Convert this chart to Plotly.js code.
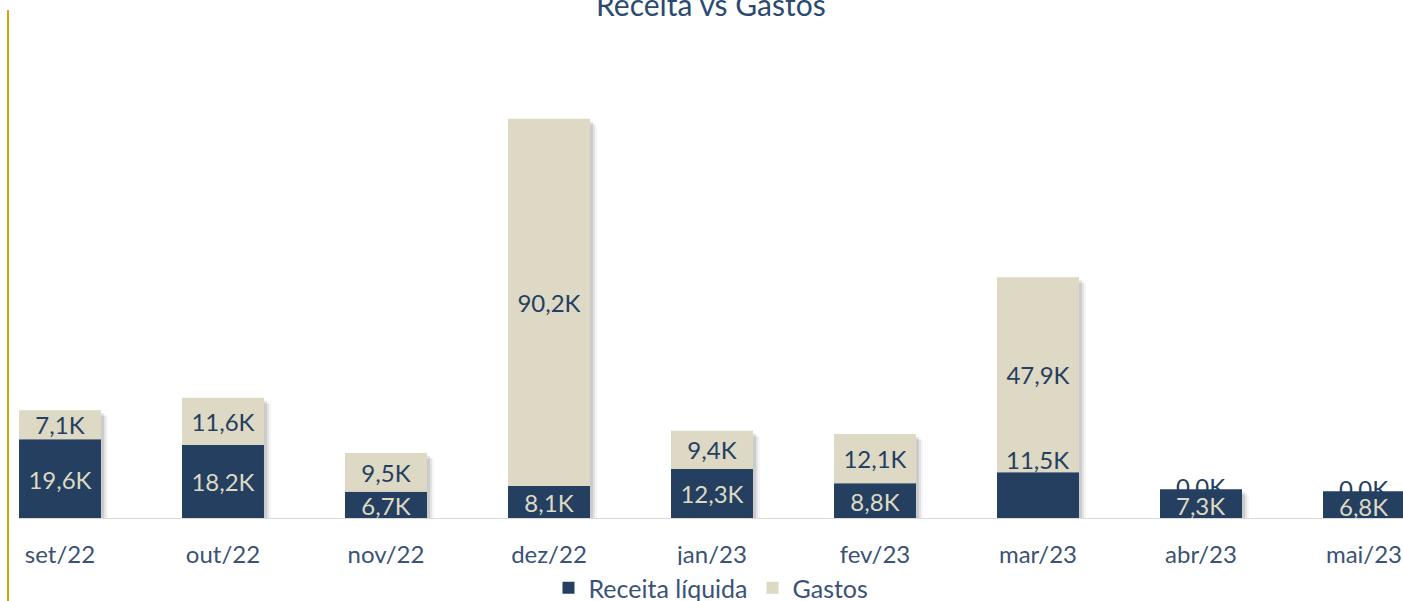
<!DOCTYPE html>
<html><head><meta charset="utf-8">
<script src="https://cdn.plot.ly/plotly-3.0.1.min.js"></script>
<style>html,body{margin:0;padding:0;background:#fff}#chart{width:1403px;height:601px}</style>
</head><body><div id="chart"></div>
<script>
const categories = ["set/22","out/22","nov/22","dez/22","jan/23","fev/23","mar/23","abr/23","mai/23"];
const receita = [19.6, 18.2, 6.7, 8.1, 12.3, 8.8, 11.5, 7.3, 6.8];
const gastos  = [7.1, 11.6, 9.5, 90.2, 9.4, 12.1, 47.9, 0.0, 0.0];
const seriesNames = ["Receita líquida", "Gastos"];

const NAVY = "#243F60", BEIGE = "#DDD9C4", TXT = "#3A5275";
const FONT = "Lato, 'Open Sans', sans-serif";
const fmt = v => v.toFixed(1).replace(".", ",") + "K";

const W = 1403, H = 601, mL = 19, mR = 0, mT = 50, mB = 82;
const yMax = 115.2;
const pxPerUnit = (H - mT - mB) / yMax;
const xr = [-0.2515, 8.2393];
const barW = 0.503;
const pxPerCat = (W - mL - mR) / (xr[1] - xr[0]);
const LBL = 24;

const total = receita.map((v, i) => v + gastos[i]);
const idx = categories.map((_, i) => i);

const zeroG = gastos.map(v => v === 0);
const recText = receita.map((v, i) => (i === 6 || zeroG[i]) ? "" : fmt(v));
const gasText = gastos.map(v => v === 0 ? "" : fmt(v));

function shadow(dxPx, dyPx, alpha) {
  return {
    type: "bar", x: idx, y: total.map(t => t - dyPx / pxPerUnit), base: total.map(() => 0),
    width: barW, offset: -barW / 2 + dxPx / pxPerCat,
    marker: {color: "rgba(0,0,0," + alpha + ")", line: {width: 0}},
    hoverinfo: "skip", showlegend: false
  };
}
const sh = [shadow(3, 3, 0.10), shadow(5, 5, 0.07), shadow(7, 6, 0.04)];

const trRec = {
  type: "bar", name: seriesNames[0], x: idx, y: receita, base: receita.map(() => 0),
  width: barW, offset: -barW / 2,
  marker: {color: NAVY, line: {width: 0}},
  text: recText, textposition: "inside", insidetextanchor: "middle",
  textfont: {family: FONT, size: LBL, color: BEIGE}, textangle: 0,
  constraintext: "none", hoverinfo: "skip"
};
const trGas = {
  type: "bar", name: seriesNames[1], x: idx, y: gastos, base: receita,
  width: barW, offset: -barW / 2,
  marker: {color: BEIGE, line: {width: 0}},
  text: gasText, textposition: "inside", insidetextanchor: "middle",
  textfont: {family: FONT, size: LBL, color: NAVY}, textangle: 0,
  constraintext: "none", hoverinfo: "skip"
};

const annotations = [];
annotations.push({x: 6, y: receita[6], xref: "x", yref: "y", text: fmt(receita[6]), showarrow: false,
  yanchor: "bottom", yshift: -4, font: {family: FONT, size: LBL, color: NAVY}});
idx.forEach(i => { if (zeroG[i]) annotations.push({x: i, y: total[i], xref: "x", yref: "y", text: fmt(gastos[i]),
  showarrow: false, yanchor: "middle", yshift: 3, font: {family: FONT, size: LBL, color: NAVY}}); });
idx.forEach(i => { if (zeroG[i]) annotations.push({x: i, y: receita[i] / 2, xref: "x", yref: "y", text: fmt(receita[i]),
  showarrow: false, yanchor: "middle", yshift: -1, font: {family: FONT, size: LBL, color: BEIGE}}); });
annotations.push({xref: "paper", yref: "paper", x: 0.5, y: 1 + (mT - 4) / (H - mT - mB), text: "Receita vs Gastos",
  showarrow: false, yanchor: "middle", font: {family: FONT, size: 30, color: "#2B4A70"}});

const layout = {
  width: W, height: H,
  margin: {l: mL, r: mR, t: mT, b: mB, pad: 0},
  paper_bgcolor: "#fff", plot_bgcolor: "#fff",
  barmode: "overlay",
  showlegend: true,
  legend: {orientation: "h", x: 0.5, xanchor: "center", xref: "paper", yref: "container", y: 1 - 588 / H, yanchor: "middle",
    font: {family: FONT, size: 25, color: TXT}, traceorder: "normal", itemwidth: 30},
  xaxis: {range: xr, tickmode: "array", tickvals: idx, ticktext: categories, showgrid: false, zeroline: false,
    showline: false, ticks: "", ticklabelstandoff: 19, tickfont: {family: FONT, size: 24, color: TXT}, fixedrange: true},
  yaxis: {range: [0, yMax], visible: false, showgrid: false, zeroline: false, fixedrange: true},
  shapes: [
    {type: "line", xref: "paper", yref: "y", x0: 0, x1: 1, y0: 0, y1: 0, line: {color: "#D9D9D9", width: 2}, layer: "above"},
    {type: "line", xref: "paper", yref: "paper", x0: -11 / (W - mL - mR), x1: -11 / (W - mL - mR),
      y0: -mB / (H - mT - mB), y1: 1 + (mT - 10) / (H - mT - mB), line: {color: "#D4A20C", width: 2}}
  ],
  annotations: annotations,
  font: {family: FONT}
};

Plotly.newPlot("chart", [...sh, trRec, trGas], layout, {displayModeBar: false, staticPlot: true});
</script></body></html>
